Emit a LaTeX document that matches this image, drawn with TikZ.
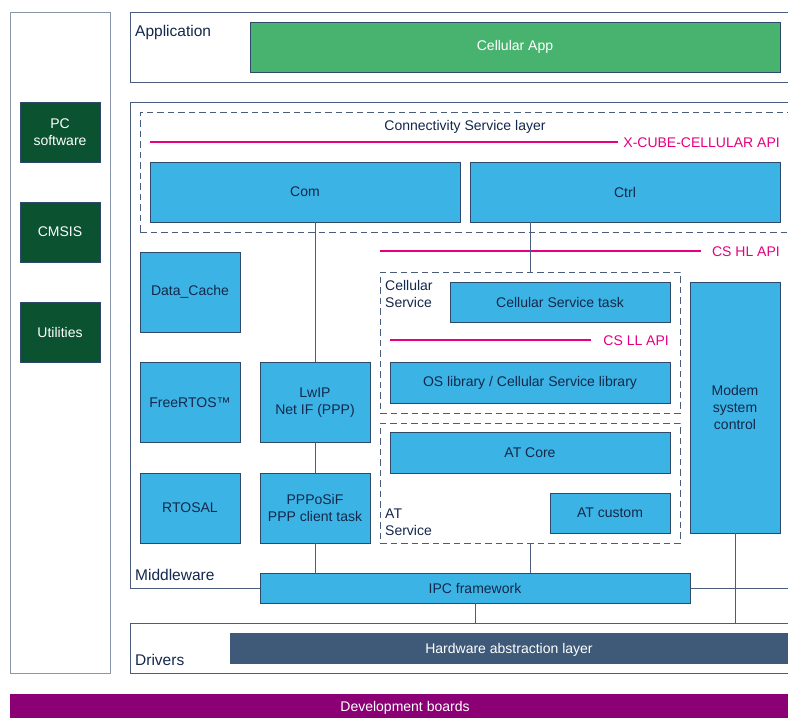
\documentclass[tikz,border=0pt]{standalone}
\usepackage{fontspec}
\setmainfont{Liberation Sans}
\definecolor{cblue}{HTML}{3BB4E5}
\definecolor{cborder}{HTML}{2E4A6B}
\definecolor{ctext}{HTML}{14284B}
\definecolor{cgreen}{HTML}{48B36F}
\definecolor{dgreen}{HTML}{0B5230}
\definecolor{cpink}{HTML}{E6007E}
\definecolor{chal}{HTML}{3F5A78}
\definecolor{cpurple}{HTML}{8C0075}
\definecolor{cframe}{HTML}{4A5D7A}
\definecolor{clight}{HTML}{8A96AA}
\begin{document}
\begin{tikzpicture}[x=1pt,y=-1pt,
  boxfont/.style={font=\fontsize{14}{17}\selectfont},
  bluebox/.style={draw=cborder, fill=cblue, text=ctext, line width=0.9pt, align=center, boxfont, inner sep=0pt},
  greenbox/.style={draw=cborder, fill=cgreen, text=white, line width=0.9pt, align=center, boxfont, inner sep=0pt},
  darkbox/.style={draw=cborder, fill=dgreen, text=white, line width=0.9pt, align=center, boxfont, inner sep=0pt},
  halbox/.style={draw=chal, fill=chal, text=white, line width=0.9pt, align=center, boxfont, inner sep=0pt},
  frame/.style={draw=cframe, line width=0.9pt, inner sep=0pt},
  dashframe/.style={draw=cframe, line width=0.9pt, dash pattern=on 6.5pt off 4pt, inner sep=0pt},
  layerlabel/.style={text=ctext, font=\fontsize{15.5}{18}\selectfont, inner sep=0pt, anchor=west},
  textlabel/.style={text=ctext, boxfont, inner sep=0pt, align=left},
  api/.style={draw=cpink, line width=2pt},
  apilabel/.style={text=cpink, boxfont, inner sep=0pt, anchor=east},
  conn/.style={draw=cframe, line width=0.9pt}
]
\useasboundingbox (0,0) rectangle (788,718);
\fill[white] (0,0) rectangle (788,718);

% left panel
\node[frame, draw=clight, minimum width=100pt, minimum height=661pt] (left) at (60,342.5) {};
\node[darkbox, minimum width=80pt, minimum height=60pt] (pc) at (60,132) {PC\\software};
\node[darkbox, minimum width=80pt, minimum height=60pt] (cmsis) at (60,232) {CMSIS};
\node[darkbox, minimum width=80pt, minimum height=60pt] (util) at (60,332) {Utilities};

% application
\node[frame, minimum width=660pt, minimum height=70pt] (app) at (460,47) {};
\node[layerlabel] (applabel) at (135,32.5) {Application};
\node[greenbox, minimum width=530pt, minimum height=50pt] (cellapp) at (515,47) {Cellular App};

% middleware
\node[frame, minimum width=660pt, minimum height=486pt] (mw) at (460,345) {};
\node[layerlabel] (mwlabel) at (135,575) {Middleware};

% connectivity service layer
\node[dashframe, minimum width=650pt, minimum height=120pt] (csl) at (465,172) {};
\node[textlabel] (csllabel) at (465,126.5) {Connectivity Service layer};
\coordinate (xa) at (150,142);
\coordinate (xb) at (618,142);
\draw[api] (xa) -- (xb);
\node[apilabel] (xlabel) at (780,143) {X-CUBE-CELLULAR API};
\node[bluebox, minimum width=310pt, minimum height=60pt] (com) at (305,192) {Com};
\node[bluebox, minimum width=310pt, minimum height=60pt] (ctrl) at (625,192) {Ctrl};

% CS HL API
\coordinate (ha) at (380,251);
\coordinate (hb) at (701,251);
\draw[api] (ha) -- (hb);
\node[apilabel] (hlabel) at (780,252) {CS HL API};

% cellular service
\node[dashframe, minimum width=300pt, minimum height=141pt] (cs) at (530,342.5) {};
\node[textlabel, anchor=north west] (cslabel) at (385,280.5) {Cellular\\Service};
\node[bluebox, minimum width=220pt, minimum height=40pt] (cstask) at (560,302) {Cellular Service task};
\coordinate (la) at (390,340);
\coordinate (lb) at (591,340);
\draw[api] (la) -- (lb);
\node[apilabel] (llabel) at (669,341) {CS LL API};
\node[bluebox, minimum width=280pt, minimum height=41pt] (oslib) at (530,382.5) {OS library / Cellular Service library};

% AT service
\node[dashframe, minimum width=300pt, minimum height=120pt] (ats) at (530,483) {};
\node[bluebox, minimum width=280pt, minimum height=41pt] (atcore) at (530,452.5) {AT Core};
\node[bluebox, minimum width=120pt, minimum height=40pt] (atcustom) at (610,513) {AT custom};
\node[textlabel, anchor=south west] (atlabel) at (385,535.5) {AT\\Service};

% modem
\node[bluebox, minimum width=90pt, minimum height=251pt] (modem) at (735,407.5) {Modem\\system\\control};

% left middleware boxes
\node[bluebox, minimum width=100pt, minimum height=80pt] (dcache) at (190,292) {Data\_Cache};
\node[bluebox, minimum width=100pt, minimum height=80pt] (freertos) at (190,402.5) {FreeRTOS™};
\node[bluebox, minimum width=110pt, minimum height=80pt] (lwip) at (315,402.5) {LwIP\\Net IF (PPP)};
\node[bluebox, minimum width=100pt, minimum height=70pt] (rtosal) at (190,508) {RTOSAL};
\node[bluebox, minimum width=110pt, minimum height=70pt] (ppp) at (315,508) {PPPoSiF\\PPP client task};

% drivers
\node[frame, minimum width=660pt, minimum height=50pt] (drv) at (460,648) {};
\node[layerlabel] (drvlabel) at (135,660) {Drivers};
\node[halbox, minimum width=560pt, minimum height=30pt] (hal) at (510,648) {};
\node[text=white, boxfont, inner sep=0pt] (hallabel) at (509,649.5) {Hardware abstraction layer};

% IPC
\node[bluebox, minimum width=430pt, minimum height=30pt] (ipc) at (475,588) {IPC framework};

% development boards
\node[fill=cpurple, minimum width=790pt, minimum height=26pt, inner sep=0pt] (dev) at (405,706.5) {};
\node[text=white, boxfont, inner sep=0pt] (devlabel) at (405,708) {Development boards};

% connectors
\draw[conn] (lwip.north |- com.south) -- (lwip.north);
\draw[conn] (lwip.south) -- (ppp.north);
\draw[conn] (ppp.south) -- (ppp.south |- ipc.north);
\draw[conn] (cs.north |- ctrl.south) -- (cs.north);
\draw[conn] (ats.south) -- (ats.south |- ipc.north);
\draw[conn] (ipc.south) -- (ipc.south |- drv.north);
\draw[conn] (modem.south) -- (modem.south |- drv.north);
\end{tikzpicture}
\end{document}
